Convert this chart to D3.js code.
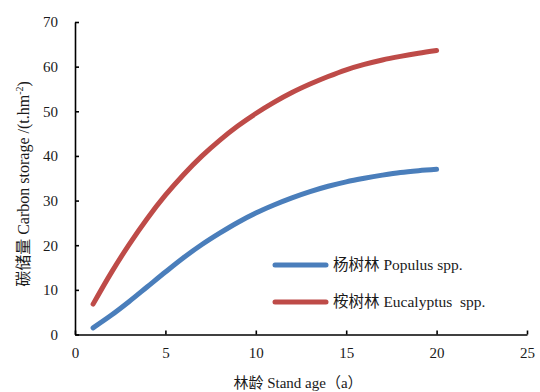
<!DOCTYPE html>
<html>
<head>
<meta charset="utf-8">
<script src="https://cdn.jsdelivr.net/npm/d3@7/dist/d3.min.js"></script>
<style>
  body { margin: 0; background: #fff; }
  text { font-family: "Liberation Serif", "Times New Roman", "Noto Sans CJK SC", serif; }
</style>
</head>
<body>
<svg id="chart" width="540" height="392"></svg>
<script>
// stand age (a)
const ages = [1, 2, 3, 4, 5, 6, 7, 8, 9, 10, 11, 12, 13, 14, 15, 16, 17, 18, 19, 20];
// carbon storage, t/hm2
const populus = [1.5, 4.3, 7.4, 10.7, 14.0, 17.2, 20.1, 22.7, 25.1, 27.2, 29.0, 30.6, 32.0, 33.2, 34.2, 35.0, 35.7, 36.3, 36.7, 37.0];
const eucalyptus = [6.8, 13.8, 20.2, 26.0, 31.2, 35.8, 39.9, 43.5, 46.7, 49.5, 52.0, 54.2, 56.1, 57.8, 59.3, 60.5, 61.5, 62.3, 63.0, 63.6];
const seriesNames = ['杨树林 Populus spp.', '桉树林 Eucalyptus  spp.'];
const seriesColors = ['#4a7ebb', '#be4b48'];
const xTicks = [0, 5, 10, 15, 20, 25];
const yTicks = [0, 10, 20, 30, 40, 50, 60, 70];

const svg = d3.select('#chart');

const x = d3.scaleLinear().domain([0, 25]).range([75, 527]);
const y = d3.scaleLinear().domain([0, 70]).range([334.5, 22]);

// axes, ticks pointing inward
const xAxis = svg.append('g')
    .attr('transform', `translate(0,${y(0)})`)
    .call(d3.axisBottom(x).tickValues(xTicks).tickFormat(d3.format('d'))
        .tickSizeInner(-4).tickSizeOuter(0).tickPadding(13));

const yAxis = svg.append('g')
    .attr('transform', `translate(${x(0)},0)`)
    .call(d3.axisLeft(y).tickValues(yTicks).tickFormat(d3.format('d'))
        .tickSizeInner(-4).tickSizeOuter(0).tickPadding(17));

[xAxis, yAxis].forEach(g => {
    g.select('.domain').attr('stroke', '#000').attr('stroke-width', 1.6);
    g.selectAll('.tick line').attr('stroke', '#000').attr('stroke-width', 1.6);
    g.selectAll('.tick text')
        .attr('fill', '#1a1a1a')
        .style('font-size', '15px')
        .style('font-family', '"Liberation Serif", serif');
});

// lines
const line = d3.line()
    .x(d => x(d[0]))
    .y(d => y(d[1]))
    .curve(d3.curveCatmullRom);

const data = [populus, eucalyptus];
data.forEach((vals, i) => {
    svg.append('path')
        .datum(ages.map((a, j) => [a, vals[j]]))
        .attr('d', line)
        .attr('fill', 'none')
        .attr('stroke', seriesColors[i])
        .attr('stroke-width', 5)
        .attr('stroke-linecap', 'round')
        .attr('stroke-linejoin', 'round');
});

// legend
const legend = svg.append('g');
seriesNames.forEach((name, i) => {
    const ly = 265 + i * 37;
    legend.append('line')
        .attr('x1', 275).attr('x2', 326)
        .attr('y1', ly).attr('y2', ly)
        .attr('stroke', seriesColors[i])
        .attr('stroke-width', 5)
        .attr('stroke-linecap', 'round');
    legend.append('text')
        .attr('x', 333)
        .attr('y', ly + 5)
        .attr('fill', '#1a1a1a')
        .style('font-size', '15.5px')
        .style('white-space', 'pre')
        .text(name);
});

// axis titles
svg.append('text')
    .attr('x', (x(0) + x(25)) / 2 - 3)
    .attr('y', 388)
    .attr('text-anchor', 'middle')
    .attr('fill', '#1a1a1a')
    .style('font-size', '15px')
    .text('林龄 Stand age（a）');

const yTitle = svg.append('text')
    .attr('transform', 'translate(29,184) rotate(-90)')
    .attr('text-anchor', 'middle')
    .attr('fill', '#1a1a1a')
    .style('font-size', '16px');
yTitle.append('tspan').text('碳储量 Carbon storage /(t.hm');
yTitle.append('tspan').attr('dy', -6).style('font-size', '10px').text('-2');
yTitle.append('tspan').attr('dy', 6).text(')');
</script>
</body>
</html>
